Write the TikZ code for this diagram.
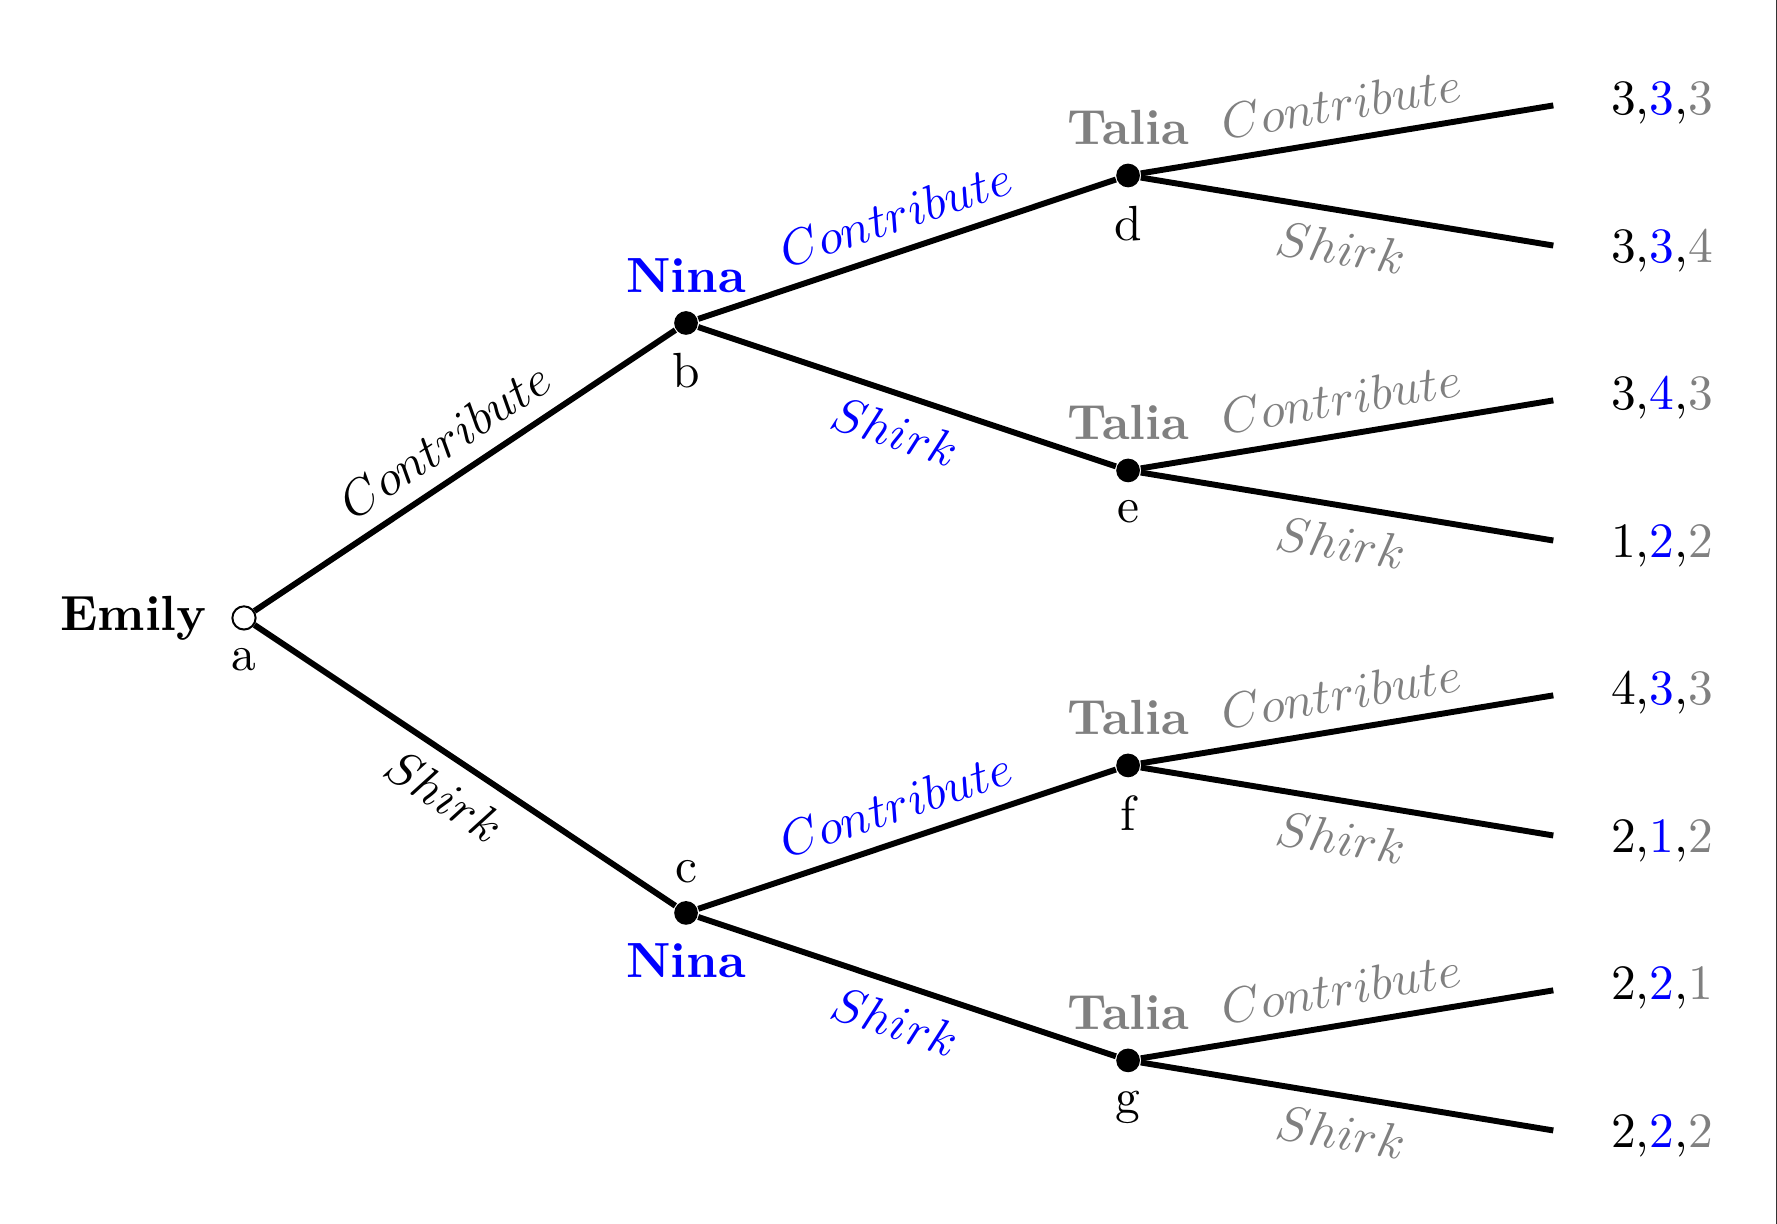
\documentclass[tikz,border=0pt]{standalone}
\usetikzlibrary{positioning}
\tikzset{
  root/.style={circle,draw=black,fill=white,inner sep=0pt,minimum size=4.7pt},
  dnode/.style={circle,fill=black,inner sep=0pt,minimum size=4.8pt},
  br/.style={very thick},
}
\begin{document}
\begin{tikzpicture}[x=3.144cm,y=1.049cm]
\useasboundingbox (-0.552,-4.108) rectangle (3.468,4.190);
% decision nodes
\node[root,label={[label distance=1.5pt]left:\textbf{Emily}},label=below:a] (a) at (0,0) {};
\node[dnode,label=above:{\color{blue}\textbf{Nina}},label=below:b] (b) at (1,2) {};
\node[dnode,label=below:{\color{blue}\textbf{Nina}},label=above:c] (c) at (1,-2) {};
\node[dnode,label=above:{\color{gray}\textbf{Talia}},label=below:d] (d) at (2,3) {};
\node[dnode,label=above:{\color{gray}\textbf{Talia}},label=below:e] (e) at (2,1) {};
\node[dnode,label=above:{\color{gray}\textbf{Talia}},label=below:f] (f) at (2,-1) {};
\node[dnode,label=above:{\color{gray}\textbf{Talia}},label=below:g] (g) at (2,-3) {};
% leaves
\coordinate (d1) at (2.962,3.475);
\coordinate (d2) at (2.962,2.525);
\coordinate (e1) at (2.962,1.475);
\coordinate (e2) at (2.962,0.525);
\coordinate (f1) at (2.962,-0.525);
\coordinate (f2) at (2.962,-1.475);
\coordinate (g1) at (2.962,-2.525);
\coordinate (g2) at (2.962,-3.475);
% Emily
\draw[br] (a) -- node[above,sloped] {$Contribute$} (b);
\draw[br] (a) -- node[below,sloped] {$Shirk$} (c);
% Nina
\draw[br] (b) -- node[above,sloped,blue] {$Contribute$} (d);
\draw[br] (b) -- node[below,sloped,blue] {$Shirk$} (e);
\draw[br] (c) -- node[above,sloped,blue] {$Contribute$} (f);
\draw[br] (c) -- node[below,sloped,blue] {$Shirk$} (g);
% Talia
\draw[br] (d) -- node[above,sloped,gray] {$Contribute$} (d1);
\draw[br] (d) -- node[below,sloped,gray] {$Shirk$} (d2);
\draw[br] (e) -- node[above,sloped,gray] {$Contribute$} (e1);
\draw[br] (e) -- node[below,sloped,gray] {$Shirk$} (e2);
\draw[br] (f) -- node[above,sloped,gray] {$Contribute$} (f1);
\draw[br] (f) -- node[below,sloped,gray] {$Shirk$} (f2);
\draw[br] (g) -- node[above,sloped,gray] {$Contribute$} (g1);
\draw[br] (g) -- node[below,sloped,gray] {$Shirk$} (g2);
% payoffs
\node (p1) at (3.208,3.495) {3,\textcolor{blue}{3},\textcolor{gray}{3}};
\node (p2) at (3.208,2.491) {3,\textcolor{blue}{3},\textcolor{gray}{4}};
\node (p3) at (3.208,1.495) {3,\textcolor{blue}{4},\textcolor{gray}{3}};
\node (p4) at (3.208,0.491) {1,\textcolor{blue}{2},\textcolor{gray}{2}};
\node (p5) at (3.208,-0.505) {4,\textcolor{blue}{3},\textcolor{gray}{3}};
\node (p6) at (3.208,-1.509) {2,\textcolor{blue}{1},\textcolor{gray}{2}};
\node (p7) at (3.208,-2.505) {2,\textcolor{blue}{2},\textcolor{gray}{1}};
\node (p8) at (3.208,-3.509) {2,\textcolor{blue}{2},\textcolor{gray}{2}};
\draw[line width=0.25pt,black!80] (3.466,4.190) -- (3.466,-4.108);
\end{tikzpicture}
\end{document}
